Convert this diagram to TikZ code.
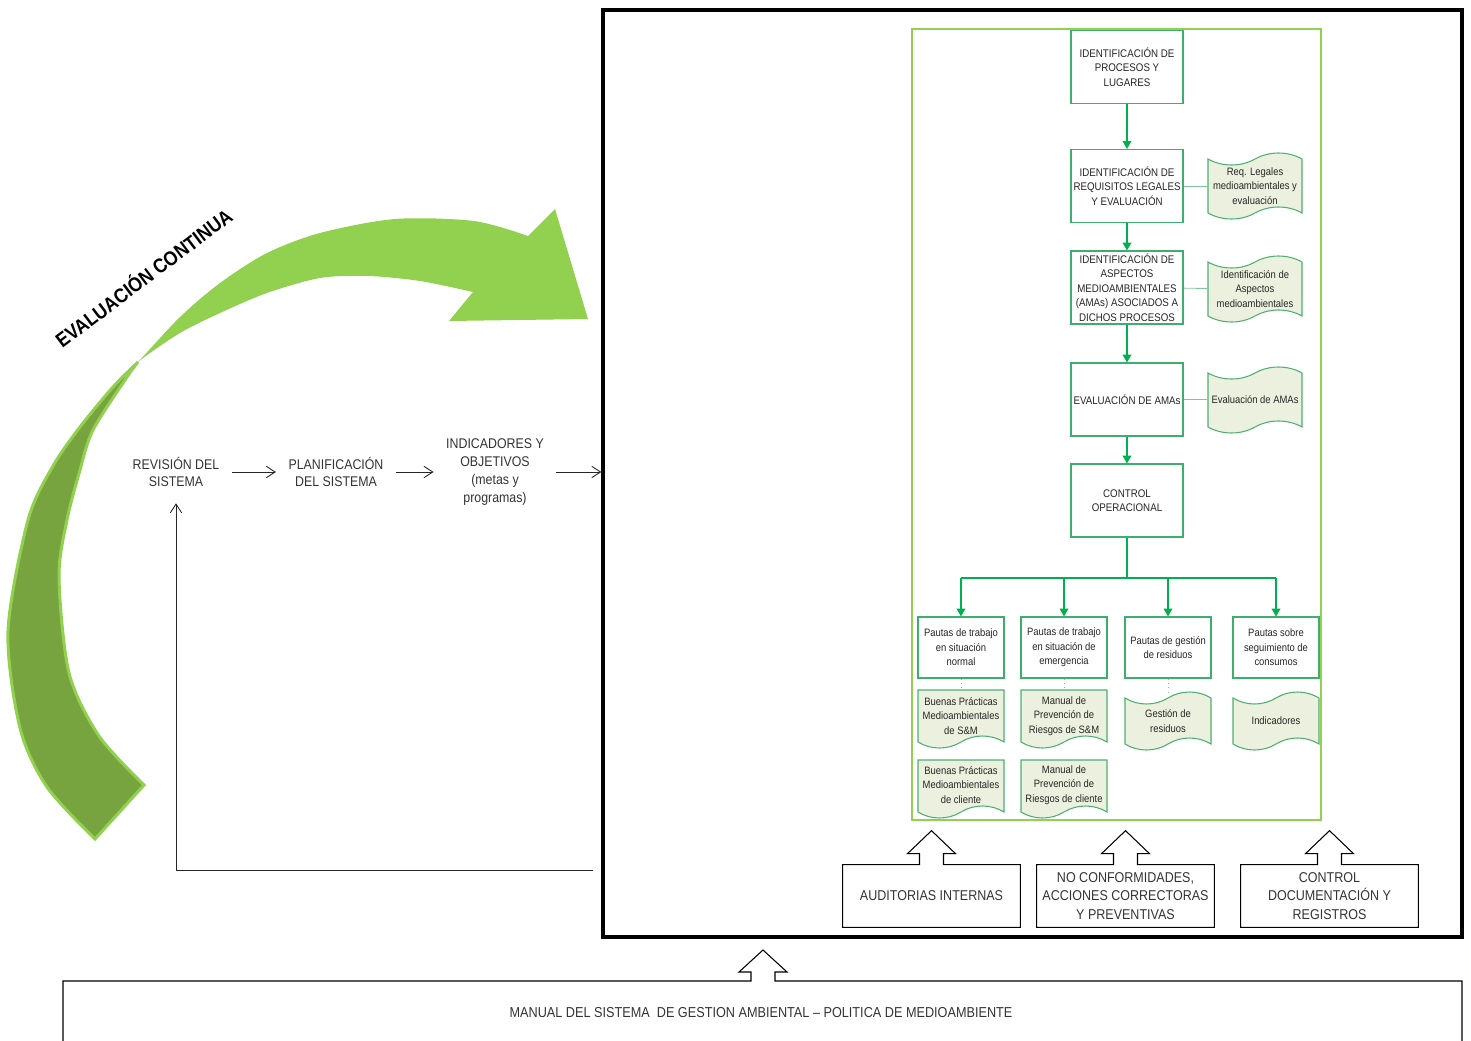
\documentclass[tikz,border=0pt]{standalone}
\usepackage{fontspec}
\setmainfont{Liberation Sans}[FakeStretch=0.88]
\usetikzlibrary{arrows.meta,calc}

\definecolor{evalight}{HTML}{92D050}
\definecolor{evadark}{HTML}{77A43F}
\definecolor{boxgreen}{HTML}{3DAE6E}
\definecolor{arrowgreen}{HTML}{00B050}
\definecolor{docgreen}{HTML}{4DB072}
\definecolor{docfill}{HTML}{EBF1DE}
\definecolor{sidegreen}{HTML}{7CC79C}
\definecolor{txtgray}{HTML}{333333}
\definecolor{txtdark}{HTML}{262626}

\tikzset{
  flowtxt/.style={align=center, text=txtgray, font=\fontsize{8}{10.2}\selectfont, inner xsep=7pt, inner ysep=9pt},
  flowarrow/.style={draw=black!85, line width=0.5pt, -{Straight Barb[length=5pt,width=6.5pt]}},
  proc/.style={draw=boxgreen, line width=0.6pt, fill=white, minimum width=2.24cm, minimum height=1.46cm,
    align=center, inner sep=0pt, text=txtdark, font=\fontsize{6.3}{8.2}\selectfont},
  pauta/.style={proc, minimum width=1.72cm, minimum height=1.22cm, font=\fontsize{6.1}{8.2}\selectfont},
  doctext/.style={align=center, inner sep=0pt, text=txtdark, font=\fontsize{6.1}{8.2}\selectfont},
  docshape/.style={draw=docgreen, fill=docfill, line width=0.6pt},
  flarrow/.style={draw=arrowgreen, line width=0.7pt, -{Triangle[length=4.5pt,width=5pt]}},
  flline/.style={draw=arrowgreen, line width=0.7pt},
  sideline/.style={draw=sidegreen, line width=0.5pt},
  dotline/.style={draw=sidegreen, line width=0.5pt, dotted},
  outbox/.style={minimum width=3.54cm, minimum height=1.24cm, align=center, inner sep=1pt,
    text=txtgray, font=\fontsize{8.1}{10.5}\selectfont},
  outline/.style={draw=black, line width=0.6pt},
  bigbox/.style={draw=black, line width=2pt, minimum width=17.18cm, minimum height=18.54cm, inner sep=0pt},
  pics/docb/.style 2 args={code={
    \filldraw[docshape] (0,0) -- ({#1},0) -- ({#1},{#2-6})
      .. controls ({0.85*#1},{#2-14}) and ({0.65*#1},{#2-14}) .. ({0.5*#1},{#2-6})
      .. controls ({0.35*#1},{#2+2}) and ({0.15*#1},{#2+2}) .. (0,{#2-6}) -- cycle;
  }},
  pics/tape/.style 2 args={code={
    \filldraw[docshape] (0,6)
      .. controls ({0.15*#1},14) and ({0.35*#1},14) .. ({0.5*#1},6)
      .. controls ({0.65*#1},-2) and ({0.85*#1},-2) .. ({#1},6) -- ({#1},{#2-6})
      .. controls ({0.85*#1},{#2-14}) and ({0.65*#1},{#2-14}) .. ({0.5*#1},{#2-6})
      .. controls ({0.35*#1},{#2+2}) and ({0.15*#1},{#2+2}) .. (0,{#2-6}) -- cycle;
  }},
}

\begin{document}
\begin{tikzpicture}[x=0.02cm,y=-0.02cm]
\useasboundingbox (0,0) rectangle (1471,1041);

% curved arrow
\fill[evalight] plot[smooth] coordinates {(95,839) (47,787) (20,728) (8,631) (28,520) (53,466) (80,427) (113,387)
    (138,362) (180,317) (220,283) (267,253) (320,233) (395,219) (474,221) (528,236)}
  -- (555,209) -- (588,319) -- (449,321)
  -- plot[smooth] coordinates {(473,292) (420,281) (368,276) (320,278) (267,293) (220,313) (180,333) (138,362)
    (127,377) (93,430) (80,470) (67,520) (59,577) (69,673) (99,736) (144,785)} -- cycle;
\filldraw[fill=evadark, draw=evalight, line width=0.06cm]
  plot[smooth] coordinates {(138,362) (113,387) (80,427) (53,466) (28,520) (8,631) (20,728) (47,787) (95,839)}
  -- plot[smooth] coordinates {(144,785) (99,736) (69,673) (59,577) (67,520) (80,470) (93,430) (127,377) (138,362)} -- cycle;
\node[rotate=37, font=\bfseries\fontsize{11.5}{13}\selectfont] (evtxt) at (143,277) {EVALUACIÓN CONTINUA};

% system box
\node[bigbox] (sgabox) at (1032.5,473.5) {};
\draw[draw=evalight, line width=0.6pt] (912,29) rectangle (1321,820);

% left flow
\node[flowtxt] (rev) at (176,472) {REVISIÓN DEL\\SISTEMA};
\node[flowtxt] (plan) at (336,472) {PLANIFICACIÓN\\DEL SISTEMA};
\node[flowtxt] (indic) at (495,472) {INDICADORES Y\\OBJETIVOS\\(metas y\\programas)};
\draw[flowarrow] (rev) -- (plan);
\draw[flowarrow] (plan) -- (indic);
\draw[flowarrow] (indic) -- (indic -| sgabox.west);
\coordinate (fbstart) at (593,870);
\draw[flowarrow] (fbstart) -| (rev);

% procesos
\node[proc] (p1) at (1127,67) {IDENTIFICACIÓN DE\\PROCESOS Y\\LUGARES};
\node[proc] (p2) at (1127,186) {IDENTIFICACIÓN DE\\REQUISITOS LEGALES\\Y EVALUACIÓN};
\node[proc] (p3) at (1127,287.5) {IDENTIFICACIÓN DE\\ASPECTOS\\MEDIOAMBIENTALES\\(AMAs) ASOCIADOS A\\DICHOS PROCESOS};
\node[proc] (p4) at (1127,399.5) {EVALUACIÓN DE AMAs};
\node[proc] (p5) at (1127,500.5) {CONTROL\\OPERACIONAL};
\draw[flarrow] (p1) -- (p2);
\draw[flarrow] (p2) -- (p3);
\draw[flarrow] (p3) -- (p4);
\draw[flarrow] (p4) -- (p5);

% registros laterales
\pic at (1208,153) {tape={94}{66}};
\pic at (1208,256) {tape={94}{66}};
\pic at (1208,367) {tape={94}{66}};
\node[doctext, minimum width=1.88cm] (s2) at (1255,186) {Req. Legales\\medioambientales y\\evaluación};
\node[doctext, minimum width=1.88cm] (s3) at (1255,289) {Identificación de\\Aspectos\\medioambientales};
\node[doctext, minimum width=1.88cm] (s4) at (1255,399.5) {Evaluación de AMAs};
\draw[sideline] (p2) -- (s2);
\draw[sideline] (p3) -- (s3);
\draw[sideline] (p4) -- (s4);

% pautas
\node[pauta] (pa1) at (961,647.5) {Pautas de trabajo\\en situación\\normal};
\node[pauta] (pa2) at (1064,647.5) {Pautas de trabajo\\en situación de\\emergencia};
\node[pauta] (pa3) at (1168,647.5) {Pautas de gestión\\de residuos};
\node[pauta] (pa4) at (1276,647.5) {Pautas sobre\\seguimiento de\\consumos};
\coordinate (split) at (1127,578);
\draw[flline] (p5) -- (split);
\draw[flline] (pa1 |- split) -- (pa4 |- split);
\foreach \n in {pa1,pa2,pa3,pa4}
  \draw[flarrow] (\n |- split) -- (\n);

% documentos
\pic at (918,690) {docb={86}{58}};
\pic at (1021,690) {docb={86}{58}};
\pic at (918,760) {docb={86}{58}};
\pic at (1021,760) {docb={86}{58}};
\pic at (1125,692) {tape={86}{58}};
\pic at (1233,692) {tape={86}{58}};
\node[doctext, minimum width=1.72cm, minimum height=1.04cm] (d1a) at (961,716) {Buenas Prácticas\\Medioambientales\\de S\&M};
\node[doctext, minimum width=1.72cm, minimum height=1.04cm] (d2a) at (1064,716) {Manual de\\Prevención de\\Riesgos de S\&M};
\node[doctext, minimum width=1.72cm, minimum height=1.04cm] (d1b) at (961,785) {Buenas Prácticas\\Medioambientales\\de cliente};
\node[doctext, minimum width=1.72cm, minimum height=1.04cm] (d2b) at (1064,785) {Manual de\\Prevención de\\Riesgos de cliente};
\node[doctext, minimum width=1.72cm, minimum height=1.08cm] (d3) at (1168,721) {Gestión de\\residuos};
\node[doctext, minimum width=1.72cm, minimum height=1.08cm] (d4) at (1276,721) {Indicadores};
\draw[dotline] (pa1) -- (d1a);
\draw[dotline] (pa2) -- (d2a);
\draw[dotline] (pa3) -- (d3);

% auditorias, no conformidades, control
\node[outbox] (audit) at (931.5,896) {AUDITORIAS INTERNAS};
\node[outbox] (noconf) at (1125.5,896) {NO CONFORMIDADES,\\ACCIONES CORRECTORAS\\Y PREVENTIVAS};
\node[outbox] (docctl) at (1329.5,896) {CONTROL\\DOCUMENTACIÓN Y\\REGISTROS};
\foreach \b in {audit,noconf,docctl}
  \draw[outline] (\b.south west) -- (\b.north west) -- ($(\b.north)+(-12,0)$) -- ++(0,-11) -- ++(-12,0)
    -- ($(\b.north)+(0,-34)$) -- ($(\b.north)+(24,-11)$) -- ++(-12,0) -- ($(\b.north)+(12,0)$)
    -- (\b.north east) -- (\b.south east) -- cycle;

% manual
\node[text=txtgray, font=\fontsize{8.2}{10}\selectfont] (manual) at (761,1013)
  {MANUAL DEL SISTEMA\ \ DE GESTION AMBIENTAL – POLITICA DE MEDIOAMBIENTE};
\draw[outline] (63,1045) -- (63,981) -- (751,981) -- ++(0,-9) -- ++(-12,0) -- (763,950) -- (787,972)
  -- ++(-12,0) -- (775,981) -- (1462,981) -- (1462,1045);
\end{tikzpicture}
\end{document}
